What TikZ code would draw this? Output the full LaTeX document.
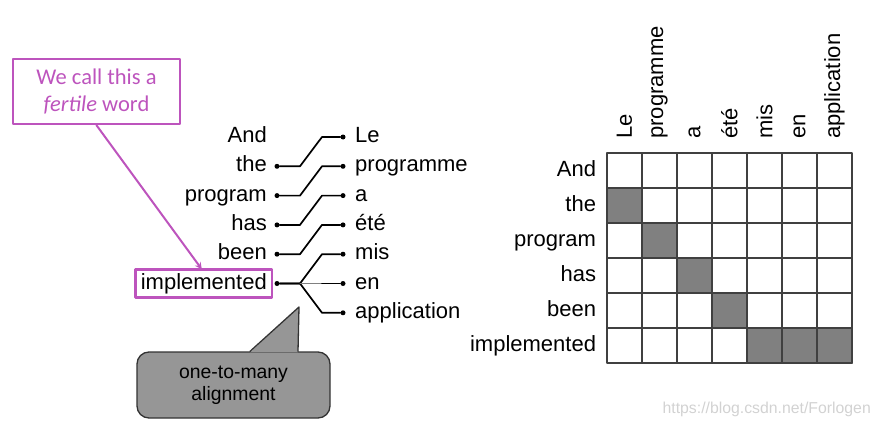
\documentclass[tikz,border=0pt]{standalone}
\usepackage{fontspec}
\setmainfont{Liberation Sans}
\newfontfamily\notefont{Carlito}
\usetikzlibrary{positioning}
\definecolor{purp}{RGB}{189,84,189}
\definecolor{callgray}{RGB}{150,150,150}
\definecolor{cellgray}{RGB}{128,128,128}
\begin{document}
\begin{tikzpicture}[x=1pt, y=-1pt, >=stealth, line join=round, line cap=round,
  font=\fontsize{22}{26}\selectfont,
  word/.style={inner xsep=5pt, inner ysep=3.5pt, text height=16pt, text depth=5pt},
  dot/.style={circle, fill, inner sep=0pt, minimum size=5pt},
  link/.style={line width=1.7pt},
  cell/.style={draw=black!75, line width=1.5pt, minimum size=35pt, inner sep=0pt}]
\useasboundingbox (0,0) rectangle (879,428);
% note box and fertile word
\node[draw=purp, line width=2.5pt, text=purp, minimum width=167pt, minimum height=65pt, align=center,
  font=\notefont\fontsize{22.5}{27}\selectfont] (note) at (96.5,91.5) {We call this a\\\textit{fertile} word};
% english side
\foreach \w [count=\i from 0] in {And,the,program,has,been,implemented}
  \node[word, anchor=east] (src\i) at (272,137+29.3*\i) {\w};
\foreach \w [count=\i from 0] in {Le,programme,a,\'et\'e,mis,en,application}
  \node[word, anchor=west] (tgt\i) at (350,137+29.3*\i) {\w};
\draw[purp, line width=2.5pt, line cap=butt] (src5.south west) rectangle (src5.north east);
\draw[->, purp, line width=2pt] (note.south) -- ([xshift=-2pt]src5.north);
% dots and links
\foreach \i in {1,...,5} \node[dot] (sd\i) at (277,137+29.3*\i) {};
\foreach \i in {0,...,6} \node[dot] (td\i) at (343,137+29.3*\i) {};
\foreach \s/\t in {1/0,2/1,3/2,4/3,5/4,5/6}
  \draw[link] (sd\s) -- ++(23,0) -- ([xshift=-21pt]td\t.center) -- (td\t);
\draw[link] (sd5) -- ++(23,0);
\draw[gray, thin] ([xshift=23pt]sd5.center) -- ([xshift=-21pt]td5.center);
\draw[link] ([xshift=-21pt]td5.center) -- (td5);
% callout
\node[draw=black!80, fill=callgray, line width=1.3pt, rounded corners=12pt, minimum width=193pt, minimum height=66pt,
  align=center, font=\fontsize{19.4}{21.5}\selectfont] (call) at (233.5,385) {one-to-many\\alignment};
\coordinate (tip) at (299,307);
\fill[callgray] ([xshift=16.5pt,yshift=-1pt]call.north) -- (tip) -- ([xshift=64.5pt,yshift=-1pt]call.north) -- cycle;
\draw[black!80, line width=1.3pt] ([xshift=16.5pt]call.north) -- (tip) -- ([xshift=64.5pt]call.north);
% alignment matrix
\foreach \c in {0,...,6}
  \foreach \r in {0,...,5}
    \node[cell] (c\c r\r) at (624.5+35*\c,170.5+35*\r) {};
\foreach \c/\r in {0/1,1/2,2/3,3/4,4/5,5/5,6/5}
  \node[cell, fill=cellgray] at (c\c r\r) {};
\foreach \w [count=\r from 0] in {And,the,program,has,been,implemented}
  \node[word, left=5pt of c0r\r] {\w};
\foreach \w [count=\c from 0] in {Le,programme,a,\'et\'e,mis,en,application}
  \node[rotate=90, anchor=west] at ([yshift=10pt]c\c r0.north) {\w};
\node[anchor=east, inner sep=0pt, text=gray!35, font=\fontsize{15.8}{18}\selectfont] (mark) at (871,409) {https://blog.csdn.net/Forlogen};
\end{tikzpicture}
\end{document}
